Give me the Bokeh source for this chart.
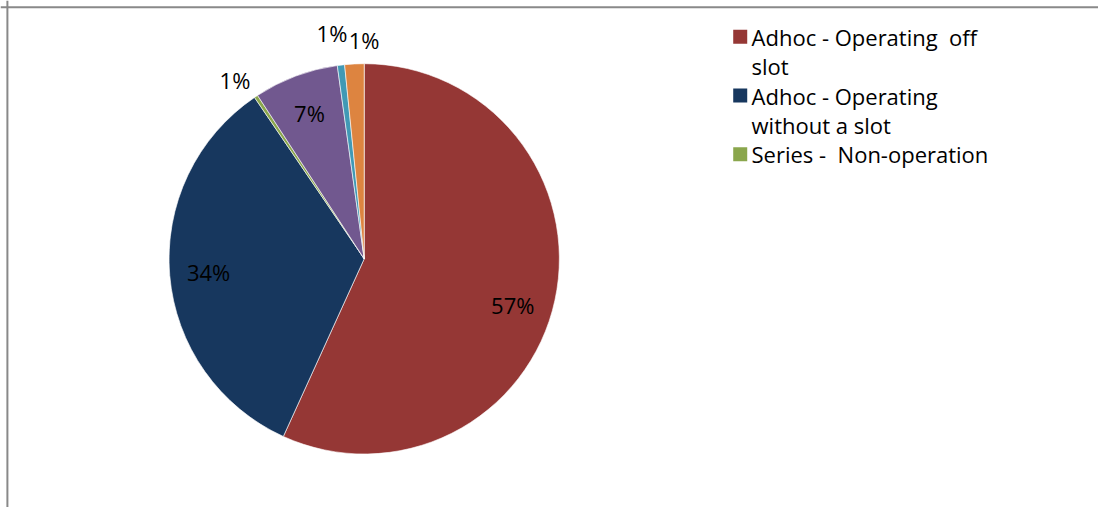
import math
from bokeh.plotting import figure
from bokeh.models import Range1d, Span, ColumnDataSource
from bokeh.core.properties import value
from bokeh.embed import file_html
from bokeh.resources import INLINE

# ---- data ----
categories = [
    "Adhoc - Operating  off slot",
    "Adhoc - Operating without a slot",
    "Series -  Non-operation",
    "Series - Operating off slot",
    "Series - Operating without a slot",
    "Other",
]
shares = [56.8, 33.7, 0.3, 7.0, 0.6, 1.6]
pct_labels = ["57%", "34%", "1%", "7%", "1%", "1%"]
colors = ["#953735", "#17375E", "#8AA64C", "#71588F", "#4199B5", "#DD8440"]
legend_lines = [
    ["Adhoc - Operating\u00a0 off", "slot"],
    ["Adhoc - Operating", "without a slot"],
    ["Series -\u00a0 Non-operation"],
]

# ---- layout helpers (reference pixel -> data) ----
W, H = 1098, 507
SX, SY = W / 1114.0, H / 523.0
def px(x):
    return x * SX
def py(y):
    return H - y * SY

CX, CY, R = px(369), py(266.5), 198.0 * SX
FONT = "Open Sans"

p = figure(width=W, height=H, x_range=Range1d(0, W), y_range=Range1d(0, H),
           output_backend="svg", toolbar_location=None, min_border=0,
           x_axis_type=None, y_axis_type=None)
p.grid.visible = False
p.outline_line_color = None
p.background_fill_color = "white"
p.border_fill_color = "white"

total = sum(shares)
starts, ends, mids = [], [], []
c = 0.0
for s in shares:
    c0 = c / total
    c += s
    c1 = c / total
    starts.append(math.pi / 2 - 2 * math.pi * c0)
    ends.append(math.pi / 2 - 2 * math.pi * c1)
    mids.append(math.pi / 2 - math.pi * (c0 + c1))

src = ColumnDataSource(dict(start=starts, end=ends, color=colors, cat=categories))
p.wedge(x=CX, y=CY, radius=R, start_angle="start", end_angle="end",
        direction="clock", fill_color="color", line_color="white",
        line_width=0.6, source=src)

# percentage labels
lx, ly, xo, yo = [], [], [], []
nudges = {0: (-4, 13), 2: (-7, 5), 4: (-6, -7), 5: (11, 1)}
for i, (s, a) in enumerate(zip(shares, mids)):
    f = 0.8 if s >= 5 else 1.13
    lx.append(CX + f * R * math.cos(a))
    ly.append(CY + f * R * math.sin(a))
    dx, dy = nudges.get(i, (0, 0))
    xo.append(dx)
    yo.append(dy)
lsrc = ColumnDataSource(dict(x=lx, y=ly, t=pct_labels, xo=xo, yo=yo))
p.text(x="x", y="y", text="t", x_offset="xo", y_offset="yo", source=lsrc,
       text_font=value(FONT), text_font_size="22px", text_color="black",
       text_align="center", text_baseline="middle")

# legend (manual, wrapped as in the reference)
sq_x, sq_y, sq_c = [], [], []
tx, ty, tt = [], [], []
y0, pitch = 37.5, 30.3
k = 0
for i, lines in enumerate(legend_lines):
    sq_x.append(px(750.5))
    sq_y.append(py(y0 + k * pitch))
    sq_c.append(colors[i])
    for ln in lines:
        tx.append(px(762))
        ty.append(py(y0 + k * pitch))
        tt.append(ln)
        k += 1
p.rect(x=sq_x, y=sq_y, width=14, height=14, fill_color=sq_c, line_color=None)
p.text(x=tx, y=ty, text=tt, text_font=value(FONT), text_font_size="22px",
       text_color="black", text_align="left", text_baseline="middle")

# chart area border (visible top and left)
p.add_layout(Span(location=px(7), dimension="height", line_color="#898989", line_width=2))
p.add_layout(Span(location=py(7), dimension="width", line_color="#898989", line_width=2))

open("out.html", "w").write(file_html(p, INLINE))
